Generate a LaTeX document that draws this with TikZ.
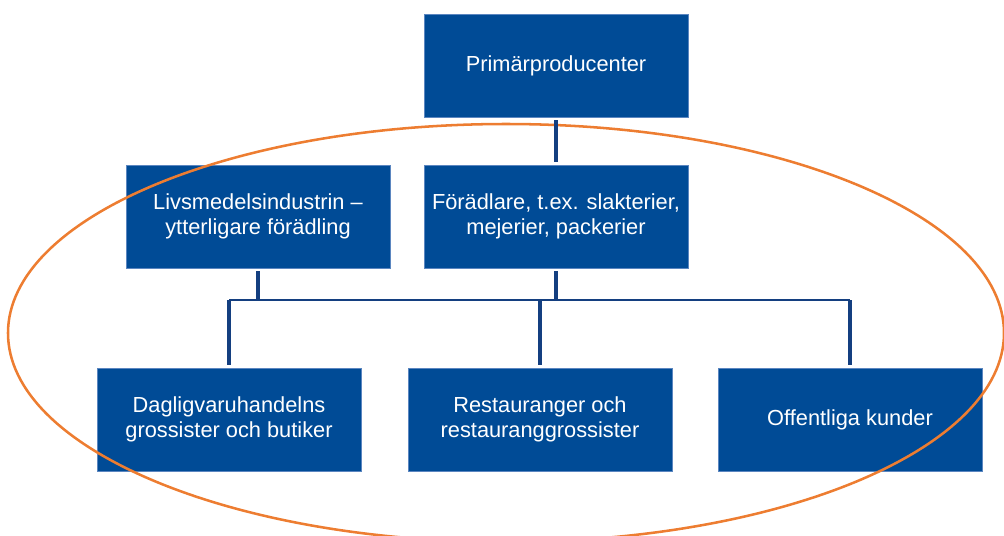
\documentclass[tikz,border=0pt]{standalone}
\usepackage{fontspec}
\setmainfont{Liberation Sans}
\definecolor{boxblue}{HTML}{004B96}
\definecolor{boxedge}{HTML}{5B86C0}
\definecolor{linenavy}{HTML}{143F80}
\definecolor{ringorange}{HTML}{ED7D31}
\begin{document}
\begin{tikzpicture}[x=0.025cm, y=-0.025cm,
        stage/.style={draw=boxedge, line width=0.6pt, rectangle, fill=boxblue, text=white,
            minimum width=6.6cm, minimum height=2.575cm, align=center,
            font=\fontsize{15.5}{17.5}\selectfont},
        link/.style={draw=linenavy, line width=2.2pt, shorten <=2pt, shorten >=2pt},
        bar/.style={draw=linenavy, line width=1.8pt}]
    \useasboundingbox (0,0) rectangle (1004,535);
    \node[stage] (prim) at (556,65.5) {Primärproducenter};
    \node[stage] (livs) at (258,216.5) {Livsmedelsindustrin –\\ytterligare förädling};
    \node[stage] (foer) at (556,216.5) {Förädlare, t.ex. slakterier,\\mejerier, packerier};
    \node[stage] (dagl) at (229,419.5) {Dagligvaruhandelns\\grossister och butiker};
    \node[stage] (rest) at (540,419.5) {Restauranger och\\restauranggrossister};
    \node[stage] (offk) at (850,419.5) {Offentliga kunder};
    % the orange ring
    \draw[ringorange, line width=1.8pt] (506,333) ellipse [x radius=498, y radius=209];
    \coordinate (split) at (0,300);
    \draw[link] (prim.south) -- (foer.north);
    \draw[link, shorten >=0pt] (livs.south) -- (livs.south |- split);
    \draw[link, shorten >=0pt] (foer.south) -- (foer.south |- split);
    \draw[bar] (dagl.north |- split) -- (offk.north |- split);
    \draw[link, shorten <=0pt] (dagl.north |- split) -- (dagl.north);
    \draw[link, shorten <=0pt] (rest.north |- split) -- (rest.north);
    \draw[link, shorten <=0pt] (offk.north |- split) -- (offk.north);
\end{tikzpicture}
\end{document}
